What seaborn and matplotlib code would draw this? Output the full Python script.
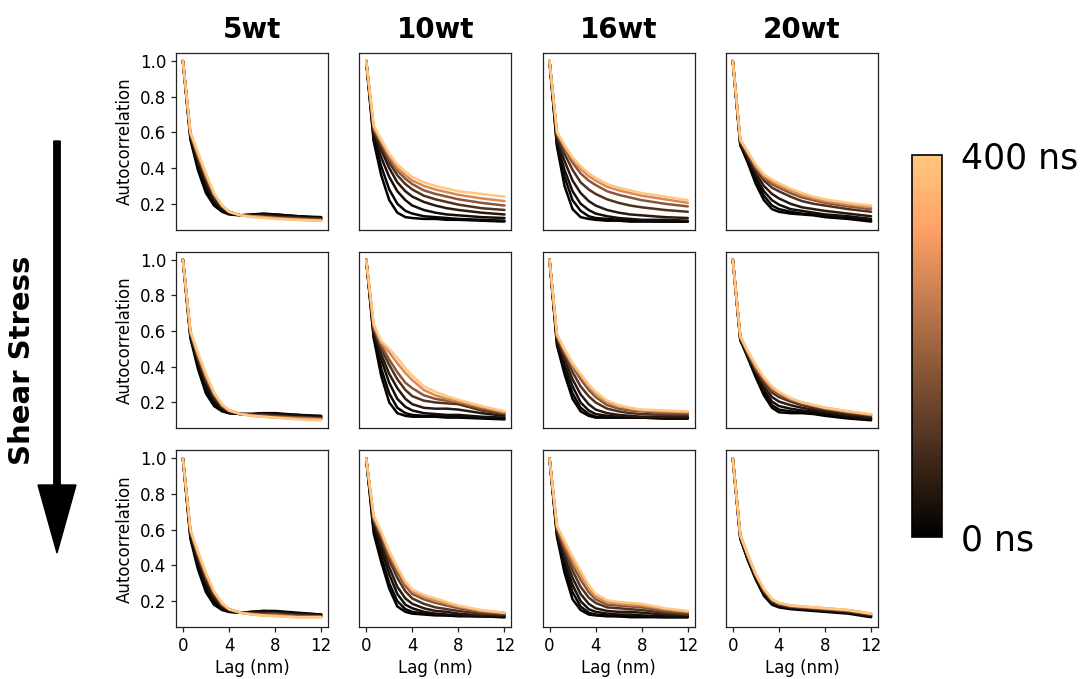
import numpy as np
import pandas as pd
import matplotlib
matplotlib.use("Agg")
import matplotlib.pyplot as plt
import seaborn as sns
from matplotlib.colors import Normalize
from matplotlib.cm import ScalarMappable

# ---------------- data ----------------
CONCENTRATIONS = ["5wt", "10wt", "16wt", "20wt"]
LAG_NM = [0, 0.65, 1.3, 2.0, 2.7, 3.4, 4.0, 5.0, 6.0, 7.0, 8.0, 10.0, 12.0]
TIME_NS = [0, 10, 25, 50, 100, 175, 275, 400]
X_TICKS = [0, 4, 8, 12]
Y_TICKS = [0.2, 0.4, 0.6, 0.8, 1.0]
CBAR_LABELS = ["0 ns", "400 ns"]

ACF_5WT_R1 = [
    [1.00, 0.56, 0.39, 0.26, 0.19, 0.155, 0.14, 0.135, 0.14, 0.145, 0.14, 0.13, 0.125],
    [1.00, 0.57, 0.41, 0.28, 0.20, 0.16, 0.145, 0.135, 0.14, 0.14, 0.14, 0.13, 0.12],
    [1.00, 0.58, 0.43, 0.30, 0.215, 0.17, 0.15, 0.135, 0.135, 0.14, 0.135, 0.125, 0.12],
    [1.00, 0.58, 0.44, 0.32, 0.23, 0.175, 0.15, 0.135, 0.135, 0.135, 0.13, 0.12, 0.115],
    [1.00, 0.59, 0.46, 0.34, 0.24, 0.18, 0.155, 0.135, 0.13, 0.13, 0.125, 0.12, 0.115],
    [1.00, 0.59, 0.47, 0.35, 0.25, 0.185, 0.155, 0.135, 0.13, 0.125, 0.12, 0.115, 0.11],
    [1.00, 0.60, 0.48, 0.36, 0.255, 0.19, 0.155, 0.135, 0.13, 0.125, 0.12, 0.11, 0.105],
    [1.00, 0.60, 0.49, 0.37, 0.26, 0.19, 0.155, 0.135, 0.125, 0.12, 0.115, 0.11, 0.105],
]
ACF_5WT_R2 = [
    [1.00, 0.56, 0.39, 0.25, 0.18, 0.15, 0.14, 0.135, 0.135, 0.14, 0.14, 0.13, 0.125],
    [1.00, 0.57, 0.41, 0.27, 0.195, 0.155, 0.14, 0.135, 0.135, 0.14, 0.135, 0.13, 0.12],
    [1.00, 0.58, 0.43, 0.29, 0.21, 0.165, 0.145, 0.135, 0.135, 0.135, 0.135, 0.125, 0.12],
    [1.00, 0.58, 0.44, 0.31, 0.22, 0.17, 0.15, 0.135, 0.13, 0.135, 0.13, 0.12, 0.115],
    [1.00, 0.59, 0.45, 0.33, 0.235, 0.175, 0.15, 0.135, 0.13, 0.13, 0.125, 0.115, 0.11],
    [1.00, 0.59, 0.46, 0.34, 0.245, 0.18, 0.155, 0.135, 0.13, 0.125, 0.12, 0.115, 0.11],
    [1.00, 0.60, 0.47, 0.35, 0.25, 0.185, 0.155, 0.135, 0.125, 0.12, 0.115, 0.11, 0.105],
    [1.00, 0.60, 0.48, 0.36, 0.255, 0.19, 0.155, 0.135, 0.125, 0.12, 0.115, 0.105, 0.10],
]
ACF_5WT_R3 = [
    [1.00, 0.55, 0.38, 0.25, 0.18, 0.15, 0.14, 0.135, 0.14, 0.145, 0.145, 0.135, 0.125],
    [1.00, 0.56, 0.40, 0.27, 0.195, 0.155, 0.14, 0.135, 0.14, 0.145, 0.14, 0.13, 0.125],
    [1.00, 0.57, 0.42, 0.29, 0.21, 0.165, 0.145, 0.135, 0.135, 0.14, 0.14, 0.13, 0.12],
    [1.00, 0.58, 0.44, 0.31, 0.22, 0.17, 0.15, 0.135, 0.135, 0.135, 0.135, 0.125, 0.12],
    [1.00, 0.59, 0.45, 0.33, 0.235, 0.175, 0.15, 0.135, 0.13, 0.13, 0.13, 0.12, 0.115],
    [1.00, 0.59, 0.46, 0.34, 0.245, 0.18, 0.155, 0.135, 0.13, 0.125, 0.125, 0.115, 0.115],
    [1.00, 0.60, 0.47, 0.35, 0.25, 0.185, 0.155, 0.135, 0.125, 0.12, 0.12, 0.11, 0.11],
    [1.00, 0.60, 0.48, 0.36, 0.255, 0.19, 0.155, 0.135, 0.125, 0.12, 0.115, 0.11, 0.11],
]
ACF_10WT_R1 = [
    [1.00, 0.55, 0.36, 0.22, 0.15, 0.125, 0.12, 0.115, 0.115, 0.11, 0.11, 0.105, 0.10],
    [1.00, 0.56, 0.41, 0.28, 0.20, 0.16, 0.145, 0.13, 0.125, 0.12, 0.115, 0.11, 0.105],
    [1.00, 0.58, 0.46, 0.35, 0.27, 0.22, 0.19, 0.165, 0.15, 0.14, 0.135, 0.125, 0.12],
    [1.00, 0.60, 0.50, 0.40, 0.32, 0.27, 0.24, 0.21, 0.19, 0.175, 0.165, 0.15, 0.14],
    [1.00, 0.61, 0.52, 0.43, 0.36, 0.31, 0.28, 0.245, 0.225, 0.21, 0.195, 0.175, 0.165],
    [1.00, 0.62, 0.54, 0.45, 0.385, 0.34, 0.31, 0.275, 0.255, 0.24, 0.225, 0.205, 0.19],
    [1.00, 0.63, 0.55, 0.47, 0.40, 0.36, 0.33, 0.30, 0.28, 0.265, 0.25, 0.23, 0.215],
    [1.00, 0.64, 0.56, 0.48, 0.42, 0.38, 0.35, 0.32, 0.30, 0.285, 0.27, 0.255, 0.24],
]
ACF_10WT_R2 = [
    [1.00, 0.56, 0.35, 0.20, 0.14, 0.125, 0.12, 0.12, 0.12, 0.115, 0.115, 0.11, 0.105],
    [1.00, 0.57, 0.39, 0.25, 0.17, 0.14, 0.13, 0.125, 0.125, 0.12, 0.12, 0.115, 0.11],
    [1.00, 0.59, 0.44, 0.31, 0.22, 0.175, 0.155, 0.14, 0.135, 0.13, 0.13, 0.12, 0.115],
    [1.00, 0.60, 0.47, 0.36, 0.28, 0.22, 0.19, 0.17, 0.165, 0.165, 0.16, 0.14, 0.125],
    [1.00, 0.61, 0.50, 0.41, 0.33, 0.27, 0.235, 0.21, 0.20, 0.195, 0.19, 0.155, 0.135],
    [1.00, 0.62, 0.52, 0.44, 0.37, 0.31, 0.28, 0.24, 0.22, 0.21, 0.20, 0.165, 0.14],
    [1.00, 0.63, 0.535, 0.48, 0.42, 0.365, 0.325, 0.27, 0.24, 0.22, 0.205, 0.175, 0.145],
    [1.00, 0.64, 0.545, 0.50, 0.45, 0.39, 0.35, 0.29, 0.26, 0.235, 0.215, 0.18, 0.15],
]
ACF_10WT_R3 = [
    [1.00, 0.58, 0.42, 0.27, 0.17, 0.14, 0.13, 0.125, 0.12, 0.12, 0.115, 0.115, 0.11],
    [1.00, 0.60, 0.45, 0.30, 0.20, 0.155, 0.14, 0.13, 0.125, 0.12, 0.12, 0.115, 0.11],
    [1.00, 0.62, 0.49, 0.35, 0.24, 0.18, 0.16, 0.14, 0.13, 0.125, 0.12, 0.115, 0.115],
    [1.00, 0.64, 0.52, 0.39, 0.28, 0.215, 0.185, 0.16, 0.145, 0.14, 0.13, 0.12, 0.12],
    [1.00, 0.65, 0.55, 0.43, 0.33, 0.255, 0.215, 0.185, 0.165, 0.155, 0.145, 0.13, 0.125],
    [1.00, 0.66, 0.57, 0.45, 0.36, 0.285, 0.24, 0.21, 0.19, 0.175, 0.16, 0.14, 0.13],
    [1.00, 0.67, 0.58, 0.47, 0.38, 0.30, 0.255, 0.225, 0.205, 0.185, 0.17, 0.145, 0.135],
    [1.00, 0.68, 0.59, 0.48, 0.39, 0.31, 0.265, 0.235, 0.215, 0.195, 0.175, 0.15, 0.135],
]
ACF_16WT_R1 = [
    [1.00, 0.52, 0.30, 0.17, 0.125, 0.115, 0.11, 0.105, 0.105, 0.10, 0.10, 0.10, 0.10],
    [1.00, 0.53, 0.35, 0.22, 0.16, 0.13, 0.12, 0.115, 0.11, 0.11, 0.105, 0.10, 0.10],
    [1.00, 0.54, 0.39, 0.27, 0.20, 0.165, 0.145, 0.13, 0.12, 0.115, 0.11, 0.11, 0.105],
    [1.00, 0.56, 0.44, 0.33, 0.26, 0.215, 0.19, 0.165, 0.15, 0.14, 0.135, 0.125, 0.12],
    [1.00, 0.58, 0.48, 0.39, 0.32, 0.28, 0.255, 0.225, 0.205, 0.19, 0.18, 0.165, 0.155],
    [1.00, 0.59, 0.51, 0.43, 0.37, 0.33, 0.305, 0.27, 0.25, 0.235, 0.22, 0.20, 0.185],
    [1.00, 0.60, 0.52, 0.45, 0.395, 0.355, 0.33, 0.295, 0.275, 0.26, 0.245, 0.225, 0.205],
    [1.00, 0.60, 0.53, 0.46, 0.41, 0.37, 0.345, 0.31, 0.29, 0.275, 0.26, 0.24, 0.22],
]
ACF_16WT_R2 = [
    [1.00, 0.52, 0.36, 0.22, 0.15, 0.125, 0.115, 0.115, 0.115, 0.115, 0.115, 0.11, 0.11],
    [1.00, 0.53, 0.38, 0.25, 0.17, 0.135, 0.12, 0.115, 0.115, 0.115, 0.115, 0.11, 0.11],
    [1.00, 0.54, 0.41, 0.29, 0.20, 0.155, 0.135, 0.125, 0.12, 0.12, 0.115, 0.115, 0.115],
    [1.00, 0.55, 0.44, 0.33, 0.245, 0.19, 0.16, 0.14, 0.13, 0.125, 0.12, 0.12, 0.12],
    [1.00, 0.56, 0.46, 0.37, 0.29, 0.235, 0.20, 0.165, 0.15, 0.14, 0.135, 0.13, 0.13],
    [1.00, 0.57, 0.48, 0.40, 0.33, 0.27, 0.23, 0.185, 0.165, 0.155, 0.15, 0.14, 0.14],
    [1.00, 0.58, 0.49, 0.41, 0.35, 0.29, 0.25, 0.20, 0.18, 0.165, 0.155, 0.15, 0.145],
    [1.00, 0.58, 0.50, 0.42, 0.36, 0.30, 0.26, 0.21, 0.185, 0.17, 0.16, 0.155, 0.15],
]
ACF_16WT_R3 = [
    [1.00, 0.56, 0.36, 0.21, 0.15, 0.125, 0.12, 0.115, 0.115, 0.11, 0.11, 0.11, 0.11],
    [1.00, 0.57, 0.39, 0.25, 0.17, 0.135, 0.125, 0.12, 0.115, 0.115, 0.115, 0.11, 0.11],
    [1.00, 0.58, 0.42, 0.29, 0.20, 0.155, 0.14, 0.13, 0.125, 0.125, 0.12, 0.115, 0.115],
    [1.00, 0.59, 0.45, 0.33, 0.24, 0.185, 0.16, 0.145, 0.14, 0.14, 0.135, 0.125, 0.12],
    [1.00, 0.60, 0.48, 0.37, 0.28, 0.22, 0.19, 0.165, 0.16, 0.155, 0.15, 0.135, 0.125],
    [1.00, 0.61, 0.50, 0.40, 0.32, 0.25, 0.21, 0.18, 0.175, 0.17, 0.165, 0.145, 0.135],
    [1.00, 0.62, 0.52, 0.43, 0.35, 0.275, 0.225, 0.195, 0.185, 0.18, 0.175, 0.155, 0.14],
    [1.00, 0.62, 0.54, 0.45, 0.37, 0.29, 0.24, 0.205, 0.195, 0.19, 0.185, 0.16, 0.145],
]
ACF_20WT_R1 = [
    [1.00, 0.53, 0.43, 0.31, 0.22, 0.17, 0.155, 0.145, 0.14, 0.135, 0.125, 0.115, 0.10],
    [1.00, 0.53, 0.44, 0.33, 0.245, 0.19, 0.17, 0.155, 0.145, 0.14, 0.13, 0.12, 0.105],
    [1.00, 0.54, 0.45, 0.35, 0.27, 0.22, 0.195, 0.17, 0.16, 0.15, 0.14, 0.13, 0.115],
    [1.00, 0.54, 0.46, 0.37, 0.30, 0.255, 0.23, 0.20, 0.18, 0.17, 0.16, 0.145, 0.13],
    [1.00, 0.55, 0.47, 0.39, 0.33, 0.29, 0.27, 0.24, 0.215, 0.20, 0.19, 0.17, 0.155],
    [1.00, 0.55, 0.48, 0.40, 0.345, 0.31, 0.29, 0.26, 0.235, 0.22, 0.205, 0.185, 0.17],
    [1.00, 0.56, 0.49, 0.41, 0.355, 0.325, 0.305, 0.275, 0.25, 0.23, 0.215, 0.195, 0.18],
    [1.00, 0.56, 0.49, 0.42, 0.365, 0.335, 0.315, 0.285, 0.26, 0.24, 0.225, 0.205, 0.19],
]
ACF_20WT_R2 = [
    [1.00, 0.55, 0.45, 0.34, 0.24, 0.17, 0.145, 0.14, 0.14, 0.135, 0.125, 0.11, 0.10],
    [1.00, 0.55, 0.46, 0.35, 0.255, 0.185, 0.16, 0.15, 0.145, 0.14, 0.13, 0.115, 0.105],
    [1.00, 0.56, 0.46, 0.36, 0.27, 0.205, 0.18, 0.165, 0.155, 0.15, 0.14, 0.12, 0.11],
    [1.00, 0.56, 0.47, 0.37, 0.29, 0.23, 0.205, 0.185, 0.17, 0.16, 0.15, 0.13, 0.115],
    [1.00, 0.56, 0.47, 0.38, 0.31, 0.255, 0.23, 0.205, 0.185, 0.17, 0.16, 0.14, 0.125],
    [1.00, 0.57, 0.48, 0.39, 0.325, 0.27, 0.245, 0.215, 0.195, 0.18, 0.165, 0.145, 0.13],
    [1.00, 0.57, 0.48, 0.40, 0.335, 0.28, 0.255, 0.22, 0.20, 0.185, 0.17, 0.15, 0.13],
    [1.00, 0.57, 0.49, 0.41, 0.34, 0.29, 0.26, 0.225, 0.20, 0.185, 0.17, 0.15, 0.135],
]
ACF_20WT_R3 = [
    [1.00, 0.55, 0.43, 0.32, 0.23, 0.18, 0.165, 0.155, 0.15, 0.145, 0.14, 0.13, 0.11],
    [1.00, 0.55, 0.435, 0.325, 0.235, 0.185, 0.17, 0.16, 0.155, 0.15, 0.145, 0.135, 0.115],
    [1.00, 0.56, 0.44, 0.33, 0.24, 0.19, 0.175, 0.16, 0.155, 0.15, 0.145, 0.135, 0.115],
    [1.00, 0.56, 0.445, 0.335, 0.25, 0.195, 0.18, 0.165, 0.16, 0.155, 0.15, 0.14, 0.12],
    [1.00, 0.56, 0.45, 0.34, 0.255, 0.20, 0.18, 0.17, 0.165, 0.16, 0.155, 0.145, 0.125],
    [1.00, 0.57, 0.455, 0.345, 0.26, 0.205, 0.185, 0.17, 0.165, 0.16, 0.155, 0.145, 0.125],
    [1.00, 0.57, 0.46, 0.35, 0.265, 0.21, 0.19, 0.175, 0.17, 0.165, 0.16, 0.15, 0.13],
    [1.00, 0.57, 0.46, 0.35, 0.27, 0.21, 0.19, 0.175, 0.17, 0.165, 0.16, 0.15, 0.13],
]

PANELS = [
    [ACF_5WT_R1, ACF_10WT_R1, ACF_16WT_R1, ACF_20WT_R1],
    [ACF_5WT_R2, ACF_10WT_R2, ACF_16WT_R2, ACF_20WT_R2],
    [ACF_5WT_R3, ACF_10WT_R3, ACF_16WT_R3, ACF_20WT_R3],
]

# ---------------- long table ----------------
records = []
for r, row in enumerate(PANELS):
    for c, curves in enumerate(row):
        for t, curve in zip(TIME_NS, curves):
            for lag, v in zip(LAG_NM, curve):
                records.append({"row": r, "col": c, "time": t, "lag": lag, "acf": v})
df = pd.DataFrame(records)

# ---------------- figure ----------------
sns.set_theme(style="ticks")
plt.rcParams["font.family"] = ["DejaVu Sans"]
plt.rcParams["axes.edgecolor"] = "#222222"
plt.rcParams["axes.linewidth"] = 0.9
plt.rcParams["text.color"] = "black"
plt.rcParams["axes.labelcolor"] = "black"
plt.rcParams["xtick.color"] = "black"
plt.rcParams["ytick.color"] = "black"

W, H = 1088, 679
fig = plt.figure(figsize=(W / 100, H / 100), dpi=100)
gs = fig.add_gridspec(3, 4, left=176 / W, right=878 / W, top=1 - 53 / H,
                      bottom=1 - 627 / H, wspace=0.205, hspace=0.125)

norm = Normalize(vmin=0, vmax=400)
for r in range(3):
    for c in range(4):
        ax = fig.add_subplot(gs[r, c])
        sub = df[(df["row"] == r) & (df["col"] == c)]
        sns.lineplot(data=sub, x="lag", y="acf", hue="time", palette="copper",
                     hue_norm=norm, legend=False, ax=ax, linewidth=1.8,
                     estimator=None, errorbar=None)
        ax.set_xlim(-0.6, 12.6)
        ax.set_ylim(0.055, 1.045)
        ax.set_xticks(X_TICKS)
        ax.set_yticks(Y_TICKS)
        ax.set_yticklabels([f"{v:.1f}" for v in Y_TICKS])
        ax.tick_params(labelsize=12, length=3.5, width=0.9, color="#222222",
                       labelcolor="black")
        ax.set_xlabel("")
        ax.set_ylabel("")
        if c == 0:
            ax.set_ylabel("Autocorrelation", fontsize=12, labelpad=4, color="black")
        else:
            ax.tick_params(left=False, labelleft=False)
        if r == 2:
            ax.set_xlabel("Lag (nm)", fontsize=12, labelpad=3, color="black")
        else:
            ax.tick_params(bottom=False, labelbottom=False)
        if r == 0:
            ax.set_title(CONCENTRATIONS[c], fontsize=20, fontweight="bold",
                         pad=11, color="black")

# colour bar
cax = fig.add_axes([912 / W, 1 - 537 / H, 30 / W, 382 / H])
cb = fig.colorbar(ScalarMappable(norm=norm, cmap="copper"), cax=cax, ticks=[0, 400])
cb.ax.set_yticklabels(CBAR_LABELS)
cb.ax.tick_params(labelsize=25, length=0, pad=14, labelcolor="black")
cb.outline.set_linewidth(1.2)
cb.outline.set_edgecolor("black")

# Shear stress arrow
fig.add_artist(matplotlib.patches.FancyArrow(
    57 / W, 1 - 141 / H, 0, -(553 - 141) / H, width=4 / H,
    head_width=38 / W, head_length=68 / H, length_includes_head=True,
    color="black", transform=fig.transFigure))
fig.text(22 / W, 1 - 360 / H, "Shear Stress", rotation=90, fontsize=21,
         fontweight="bold", ha="center", va="center", color="black")

fig.savefig("out.png", dpi=100)
